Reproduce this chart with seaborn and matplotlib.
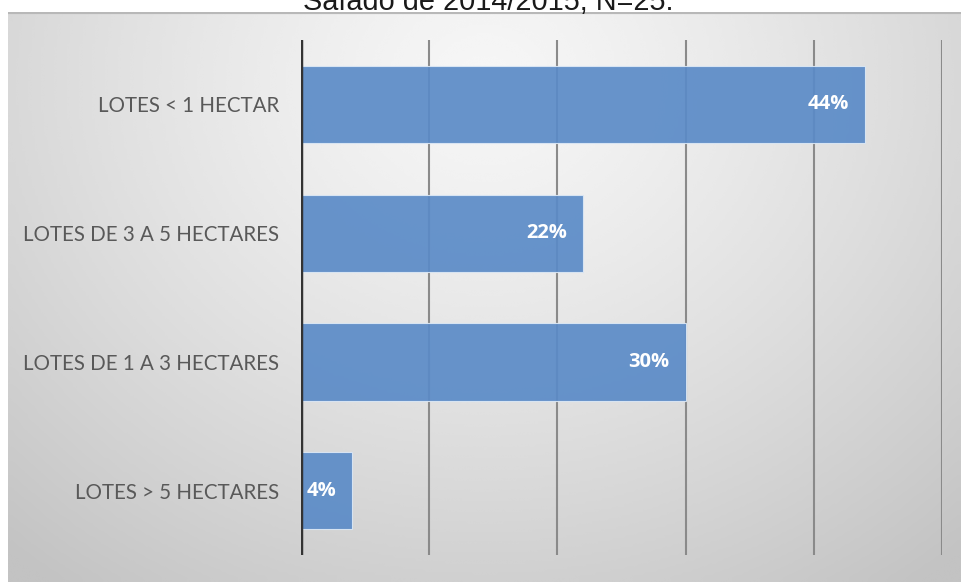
import numpy as np
import pandas as pd
import matplotlib
matplotlib.use("Agg")
import matplotlib.pyplot as plt
import seaborn as sns

categories = ["LOTES < 1 HECTAR", "LOTES DE 3 A 5 HECTARES",
              "LOTES DE 1 A 3 HECTARES", "LOTES > 5 HECTARES"]
values = [44, 22, 30, 4]
labels = ["44%", "22%", "30%", "4%"]
title = "Safado de 2014/2015, N=25."

sns.set_theme(style="white")
plt.rcParams['font.family'] = ['Lato', 'DejaVu Sans']

W, H = 962, 582
fig = plt.figure(figsize=(W / 100, H / 100), dpi=100)
fig.patch.set_facecolor("white")

# background gradient panel
bg = fig.add_axes([8 / W, 0, (W - 8) / W, (H - 12) / H], zorder=0)
ny, nx = 200, 300
yy, xx = np.mgrid[0:1:ny * 1j, 0:1:nx * 1j]
d = np.sqrt(((xx - 0.5) / 0.75) ** 2 + ((yy - 0.12) / 1.1) ** 2)
d = np.clip(d, 0, 1)
grad = 0.965 - 0.2 * d ** 1.3
bg.imshow(grad, cmap="gray", vmin=0, vmax=1, aspect="auto",
          extent=[0, 1, 1, 0], interpolation="bicubic")
bg.axhline(0.0, color="#b8b8b8", lw=3)
bg.set_xlim(0, 1)
bg.set_ylim(1, 0)
bg.axis("off")

# title (cropped at top of the figure, as in the reference)
fig.text(488 / W, 1 - 10 / H, title, ha="center", va="baseline",
         fontsize=20.8, color="#1a1a1a", family=["Liberation Sans", "DejaVu Sans"])

x0, x1 = 301, 942
y0, y1 = 40, 555
ax = fig.add_axes([x0 / W, 1 - y1 / H, (x1 - x0) / W, (y1 - y0) / H], zorder=1)
ax.patch.set_alpha(0)

df = pd.DataFrame({"cat": categories, "val": values})
sns.barplot(data=df, x="val", y="cat", orient="h", color="#5b8bc7",
            width=0.6, saturation=1, ax=ax, alpha=0.92, zorder=2,
            edgecolor="#dce8f5", linewidth=0.8)

ax.set_xlim(0, 50)
ax.set_ylim(3.5, -0.5)
ax.set_xticks([0, 10, 20, 30, 40, 50])
ax.set_xticklabels([])
for gx in [10, 20, 30, 40, 50]:
    ax.axvline(gx, color="#8a8a8a", lw=1.5, zorder=1)
ax.axvline(0, color="#333333", lw=2.5, zorder=3)
for s in ax.spines.values():
    s.set_visible(False)
ax.tick_params(axis="x", length=0)
ax.tick_params(axis="y", length=0, pad=16, labelsize=14.8, labelcolor="#595959")
ax.set_xlabel("")
ax.set_ylabel("")

for i, (v, lab) in enumerate(zip(values, labels)):
    ax.text(v - 1.25, i, lab, ha="right", va="center", color="white",
            fontsize=14.5, fontweight="bold", zorder=4,
            family=["Open Sans", "DejaVu Sans"])

fig.savefig("out.png", dpi=100)
